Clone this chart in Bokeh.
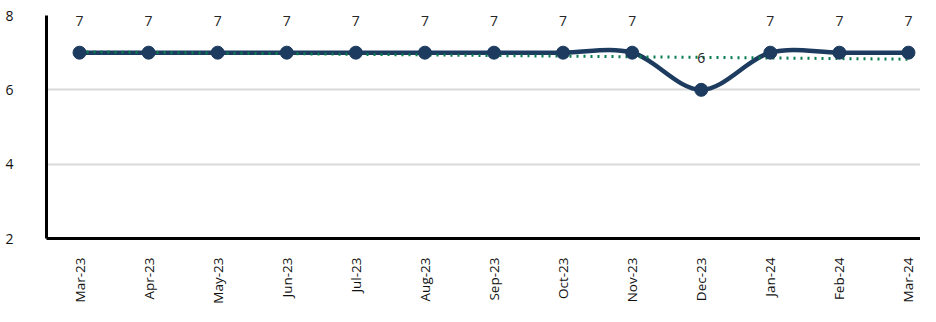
import numpy as np
from bokeh.plotting import figure
from bokeh.models import Range1d, FixedTicker, ColumnDataSource
from bokeh.embed import file_html
from bokeh.resources import INLINE
from bokeh.core.properties import value

months = ["Mar-23", "Apr-23", "May-23", "Jun-23", "Jul-23", "Aug-23", "Sep-23",
          "Oct-23", "Nov-23", "Dec-23", "Jan-24", "Feb-24", "Mar-24"]
values = [7, 7, 7, 7, 7, 7, 7, 7, 7, 6, 7, 7, 7]
y_ticks = [2, 4, 6, 8]

NAVY = "#1d3b5f"
GREEN = "#0a7d50"
FONT = "Open Sans"

x = np.arange(len(months), dtype=float)
y = np.array(values, dtype=float)

p = figure(width=920, height=306, output_backend="svg", toolbar_location=None,
           x_range=Range1d(-0.478, 12.174), y_range=Range1d(2, 8),
           min_border_left=46, min_border_right=0, min_border_top=15, min_border_bottom=64)
p.outline_line_color = None
p.background_fill_color = "white"

# axes
p.yaxis.ticker = FixedTicker(ticks=y_ticks)
p.xaxis.ticker = FixedTicker(ticks=list(range(len(months))))
p.xaxis.major_label_overrides = {i: m for i, m in enumerate(months)}
for ax in (p.xaxis[0], p.yaxis[0]):
    ax.axis_line_color = "black"
    ax.axis_line_width = 3
    ax.major_tick_line_color = None
    ax.minor_tick_line_color = None
    ax.major_label_text_font = FONT
    ax.major_label_text_color = "#111111"
p.yaxis.major_label_text_font_size = "14px"
p.yaxis.major_label_standoff = 27
p.xaxis.major_label_text_font_size = "13.5px"
p.xaxis.major_label_orientation = np.pi / 2
p.xaxis.major_label_standoff = 13

p.xgrid.grid_line_color = None
p.ygrid.ticker = FixedTicker(ticks=[4, 6, 8])
p.ygrid.grid_line_color = "#d9d9d9"
p.ygrid.grid_line_width = 2

# smoothed line (Catmull-Rom style bezier through the points)
pts = np.column_stack([x, y])
prev = np.vstack([pts[0], pts[:-1]])
nxt = np.vstack([pts[1:], pts[-1]])
tang = (nxt - prev) / 6.0
c0 = pts[:-1] + tang[:-1]
c1 = pts[1:] - tang[1:]
bz = ColumnDataSource(dict(x0=pts[:-1, 0], y0=pts[:-1, 1], x1=pts[1:, 0], y1=pts[1:, 1],
                           cx0=c0[:, 0], cy0=c0[:, 1], cx1=c1[:, 0], cy1=c1[:, 1]))
p.bezier(x0="x0", y0="y0", x1="x1", y1="y1", cx0="cx0", cy0="cy0", cx1="cx1", cy1="cy1",
         source=bz, line_color=NAVY, line_width=4.5, line_cap="round")

# linear trendline from the data
slope, intercept = np.polyfit(x, y, 1)
p.line(x, slope * x + intercept, line_color=GREEN, line_width=3, line_dash="2 5")

# markers
p.scatter(x, y, size=13, fill_color=NAVY, line_color=NAVY)

# data labels
src = ColumnDataSource(dict(x=x, y=y, t=[str(v) for v in values]))
p.text(x="x", y="y", text="t", source=src, text_align="center", text_baseline="middle",
       y_offset=-32, text_font=value(FONT), text_font_size="14px", text_color="#262626")

open("out.html", "w").write(file_html(p, INLINE))
